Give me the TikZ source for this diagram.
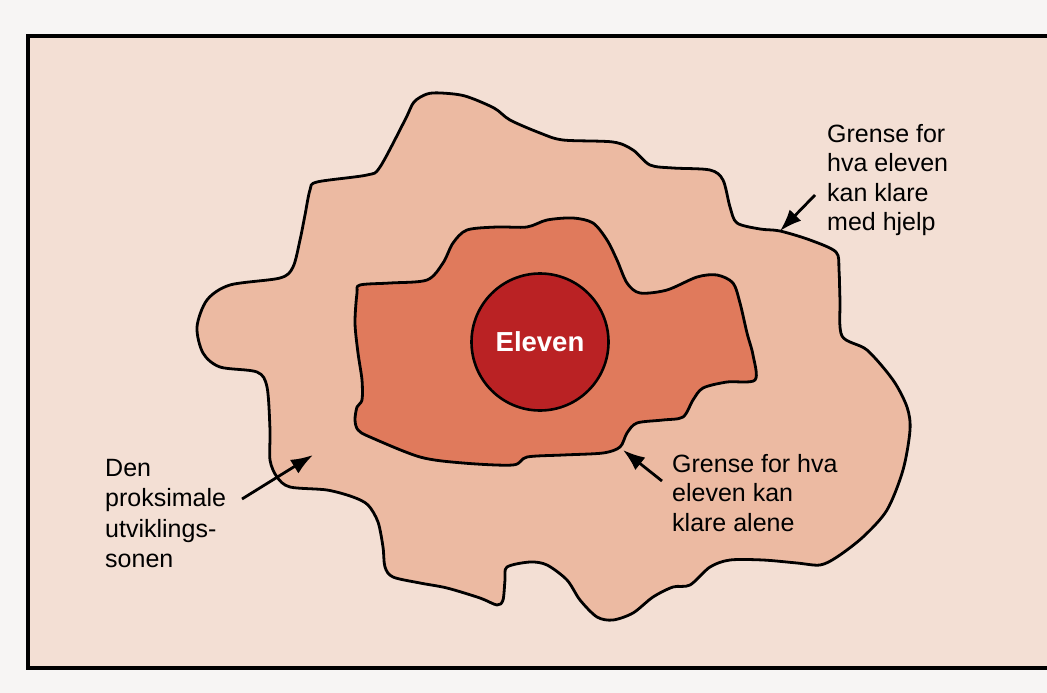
\documentclass[tikz,border=0pt]{standalone}
\usepackage{fontspec}
\setmainfont{Liberation Sans}
\usetikzlibrary{arrows.meta}
\definecolor{pagebg}{RGB}{247,245,244}
\definecolor{boxbg}{RGB}{243,223,212}
\definecolor{zonefill}{RGB}{236,186,162}
\definecolor{innerfill}{RGB}{224,122,92}
\definecolor{corefill}{RGB}{186,34,36}
\begin{document}
\begin{tikzpicture}[x=1pt,y=-1pt,
  outline/.style={draw=black, line width=2.8pt, line join=round},
  pointer/.style={line width=2.8pt, -{Latex[length=22pt,width=16pt]}},
  label/.style={font=\fontsize{25}{29.5}\selectfont, align=left, inner sep=0pt, anchor=north west, text=black}]
\fill[pagebg] (0,0) rectangle (1047,693);
\useasboundingbox (0,0) rectangle (1047,693);
\clip (0,0) rectangle (1047,693);
\draw[line width=3.2pt, fill=boxbg] (28,36) rectangle (1070,668);
% outer zone
\draw[outline, fill=zonefill] plot[smooth cycle, tension=0.5] coordinates {
 (441,93) (465,96) (494,108) (510,120) (540,133) (563,140) (613,142) (633,150)
 (650,165) (673,168) (710,170) (723,180) (730,207) (737,223) (760,229) (780,231)
 (810,240) (836,252) (839,270) (840,300) (842,336) (867,350) (893,380) (907,407)
 (910,430) (903,470) (887,510) (863,537) (837,557) (820,565) (797,563) (763,560)
 (730,560) (710,567) (690,585) (673,587) (653,597) (633,613) (613,620) (597,617)
 (580,600) (567,580) (547,565) (530,562) (507,567) (505,580) (503,600) (497,605)
 (480,598) (447,588) (420,583) (393,577) (385,567) (383,547) (378,522) (368,505)
 (353,497) (327,490) (290,487) (277,477) (270,460) (270,430) (267,387) (257,372)
 (220,367) (203,353) (197,327) (207,300) (230,285) (280,278) (293,267) (300,240)
 (305,215) (310,190) (317,182) (367,175) (380,167) (405,120) (414,102) (427,94)};
% inner zone
\draw[outline, fill=innerfill] plot[smooth cycle, tension=0.5] coordinates {
 (360,285) (390,283) (427,280) (443,263) (453,243) (467,230) (497,227) (527,227)
 (547,220) (573,218) (593,223) (607,240) (617,260) (627,283) (640,293) (667,290)
 (697,277) (717,275) (733,283) (740,303) (747,333) (753,355) (755,380) (727,382)
 (703,388) (693,400) (683,417) (663,420) (637,423) (627,433) (620,447) (603,453)
 (563,455) (527,457) (513,465) (463,463) (420,457) (370,437) (358,430) (355,420)
 (357,407) (362,400) (362,380) (358,353) (355,323) (357,293)};
% core
\node[circle, draw=black, line width=2.6pt, fill=corefill, minimum size=137pt, inner sep=0pt,
      font=\fontsize{27.5}{30}\selectfont\bfseries, text=white] (core) at (540,342) {Eleven};
% labels
\node[label] (lblA) at (827,124) {Grense for\\hva eleven\\kan klare\\med hjelp};
\node[label, font=\fontsize{25}{30.3}\selectfont] (lblB) at (105,459) {Den\\proksimale\\utviklings-\\sonen};
\node[label] (lblC) at (672,454) {Grense for hva\\eleven kan\\klare alene};
% arrows
\coordinate (tailA) at (815,195); \coordinate (tipA) at (780,231);
\coordinate (tailB) at (242,499); \coordinate (tipB) at (313,455);
\coordinate (tailC) at (662,481); \coordinate (tipC) at (623,450);
\draw[pointer] (tailA) -- (tipA);
\draw[pointer] (tailB) -- (tipB);
\draw[pointer] (tailC) -- (tipC);
\end{tikzpicture}
\end{document}
